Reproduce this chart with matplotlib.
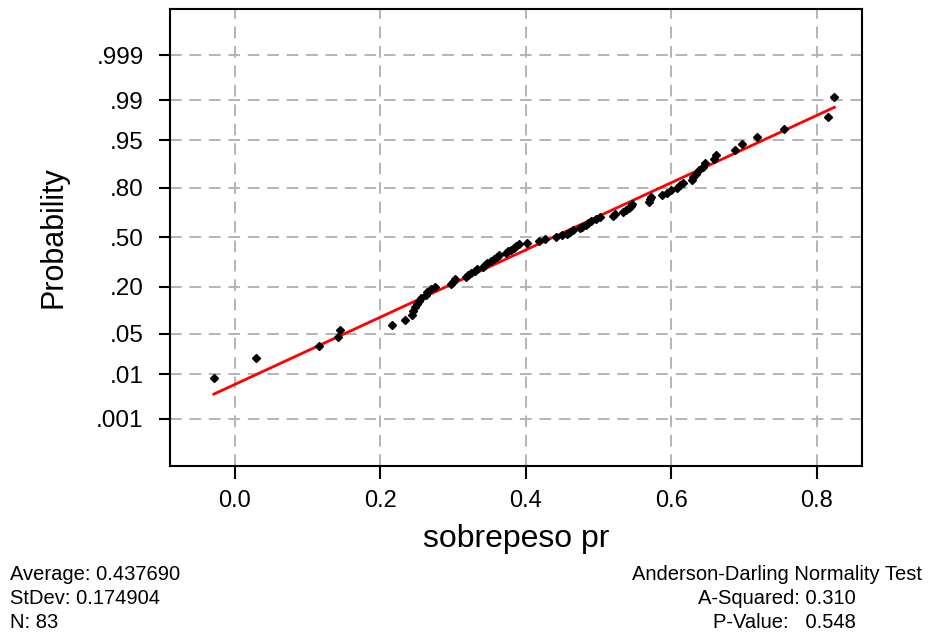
import numpy as np
import matplotlib
matplotlib.use("Agg")
import matplotlib.pyplot as plt
from statistics import NormalDist

# sobrepeso pr, valores ordenados (n = 83)
sobrepeso = [
    -0.029, 0.029, 0.116, 0.142, 0.144, 0.216, 0.234, 0.243,
    0.245, 0.247, 0.250, 0.253, 0.256, 0.262, 0.264, 0.270, 0.275,
    0.297, 0.300, 0.303, 0.318, 0.321, 0.325, 0.330, 0.333,
    0.341, 0.344, 0.347, 0.352, 0.356, 0.360, 0.363, 0.373,
    0.376, 0.380, 0.384, 0.387, 0.390, 0.401, 0.418, 0.426,
    0.442, 0.450, 0.456, 0.460, 0.465, 0.474, 0.477, 0.482, 0.486,
    0.490, 0.497, 0.502, 0.520, 0.522, 0.534, 0.538, 0.542, 0.545, 0.546,
    0.569, 0.570, 0.572, 0.587, 0.594, 0.600, 0.607, 0.612, 0.616, 0.628,
    0.630, 0.634, 0.638, 0.643, 0.646, 0.659, 0.661,
    0.687, 0.697, 0.717, 0.755, 0.815, 0.824,
]
media = 0.437690
desv = 0.174904
a_cuadrado = 0.310
p_valor = 0.548

prob_ticks = [0.001, 0.01, 0.05, 0.20, 0.50, 0.80, 0.95, 0.99, 0.999]
prob_labels = [".001", ".01", ".05", ".20", ".50", ".80", ".95", ".99", ".999"]
x_ticks = [0.0, 0.2, 0.4, 0.6, 0.8]

nd = NormalDist()


def _ppf1(p):
    if p != p:
        return np.nan
    return nd.inv_cdf(min(max(p, 1e-12), 1 - 1e-12))


_ppf = np.vectorize(_ppf1, otypes=[float])
_cdf = np.vectorize(lambda z: nd.cdf(z) if z == z else np.nan, otypes=[float])


def forward(p):
    return _ppf(np.asarray(p, dtype=float))


def inverse(z):
    return _cdf(np.asarray(z, dtype=float))


# rangos de mediana (Benard)
x = np.sort(np.array(sobrepeso))
n = len(x)
rangos = (np.arange(1, n + 1) - 0.3) / (n + 0.4)

plt.rcParams['font.family'] = ['Liberation Sans', 'DejaVu Sans']

fig = plt.figure(figsize=(9.29, 6.36), dpi=100)
W, H = 929, 636
ax = fig.add_axes([170 / W, 1 - 466 / H, 692 / W, 457 / H])
ax.set_yscale('function', functions=(forward, inverse))

ax.grid(True, color='#b4b4b4', linestyle=(0, (6, 4)), linewidth=1.4)
ax.set_axisbelow(True)

# recta ajustada con la media y desviación
xl = np.linspace(x.min(), x.max(), 20)
ax.plot(xl, inverse((xl - media) / desv), color='red', lw=2, zorder=3)
ax.plot(x, rangos, linestyle='none', marker='D', ms=3.6, color='black', zorder=4)

ax.set_xlim(-0.0893, 0.862)
ax.set_ylim(nd.cdf(-3.89), nd.cdf(3.88))
ax.set_yticks(prob_ticks)
ax.set_yticklabels(prob_labels)
ax.set_xticks(x_ticks)
ax.set_xticklabels([f"{v:.1f}" for v in x_ticks])
ax.yaxis.set_minor_locator(matplotlib.ticker.NullLocator())

ax.tick_params(axis='y', length=8, width=1.5, pad=11, labelsize=17.5)
ax.tick_params(axis='x', length=9, width=1.5, pad=8, labelsize=17)
for s in ax.spines.values():
    s.set_linewidth(1.5)

ax.set_ylabel("Probability", fontsize=22, labelpad=20)
ax.set_xlabel("sobrepeso pr", fontsize=23, labelpad=9)

fs = 14.5
fig.text(10 / W, 1 - 575 / H, f"Average: {media:.6f}", fontsize=fs, va='center')
fig.text(10 / W, 1 - 599 / H, f"StDev: {desv:.6f}", fontsize=fs, va='center')
fig.text(10 / W, 1 - 623 / H, f"N: {n}", fontsize=fs, va='center')
fig.text(922 / W, 1 - 575 / H, "Anderson-Darling Normality Test", fontsize=fs,
         va='center', ha='right')
fig.text(856 / W, 1 - 599 / H, f"A-Squared: {a_cuadrado:.3f}", fontsize=fs,
         va='center', ha='right')
fig.text(856 / W, 1 - 623 / H, f"P-Value:   {p_valor:.3f}", fontsize=fs,
         va='center', ha='right')

fig.savefig("out.png", dpi=100)
